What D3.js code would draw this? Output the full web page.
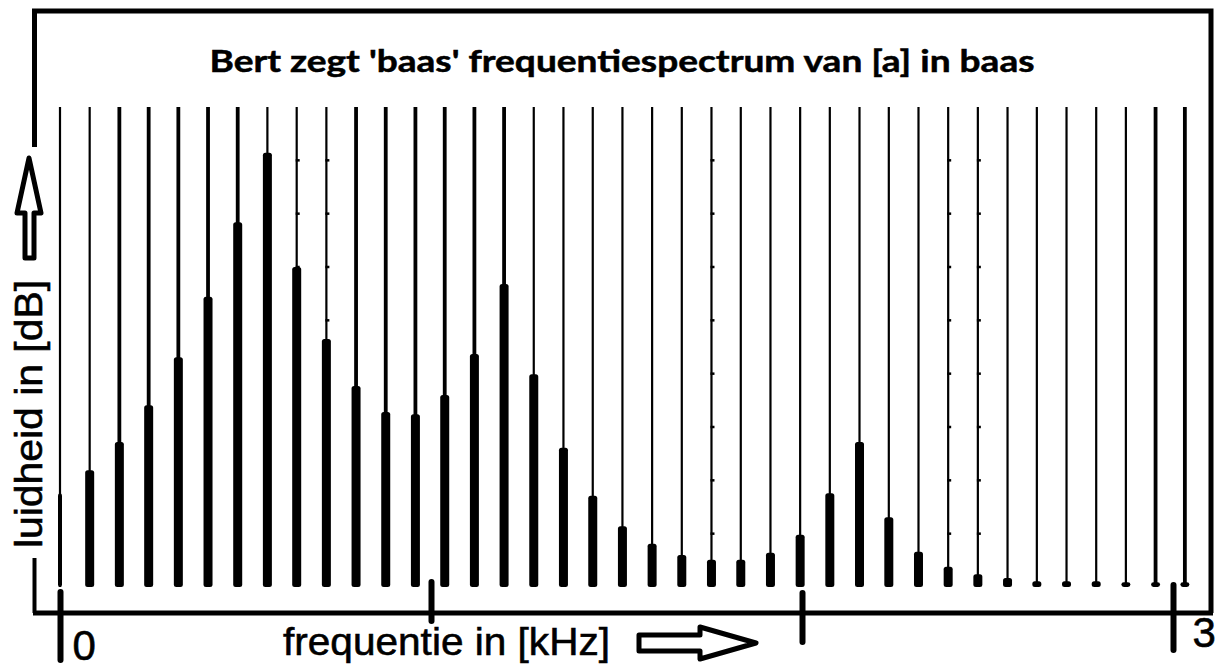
<!DOCTYPE html>
<meta charset="utf-8">
<style>
    body { margin: 0; background: #fff; }
    text { fill: #000; }
</style>
<body>
<svg></svg>
<script src="https://d3js.org/d3.v7.min.js"></script>
<script>

    // harmonics of the [a] in 'baas' (Hz) and their loudness (dB)
    let freqs = [0, 80, 160, 239, 319, 399, 479, 559, 638, 718,
        798, 878, 958, 1037, 1117, 1197, 1277, 1357, 1436, 1516,
        1596, 1676, 1756, 1835, 1915, 1995, 2075, 2155, 2234, 2314,
        2394, 2474, 2554, 2633, 2713, 2793, 2873, 2953, 3032];
    let levels = [17.6, 21.9, 27.2, 34.1, 43.1, 54.4, 68.4, 81.4, 60.0, 46.5,
        37.7, 32.8, 32.4, 36.0, 43.7, 56.8, 39.9, 26.1, 17.1, 11.4,
        8.1, 6.0, 5.1, 5.1, 6.4, 9.8, 17.6, 27.2, 13.1, 6.6,
        3.8, 2.4, 1.7, 1.1, 1.1, 1.1, 0.9, 0.9, 0.9];
    let kHzTicks = [0, 1, 2, 3];
    let kHzLabels = ["0", "", "", "3"];
    let dbMarks = [10, 20, 30, 40, 50, 60, 70, 80];
    let markedHarmonics = [7, 8, 9, 22, 30, 31];   // lines where the dB dots show
    let heavyHarmonics = [2, 3, 4, 5, 6, 10, 11, 12, 13, 14, 15, 37, 38];

    let width = 1217,
        height = 670;

    let svg = d3.select("svg")
        .attr("width", width)
        .attr("height", height)
        .style("display", "block");

    svg.append("rect").attr("width", width).attr("height", height).attr("fill", "#fff");

    let x = d3.scaleLinear().domain([0, 3000]).range([60, 1173]),
        y = d3.scaleLinear().domain([0, 90]).range([587, 107]);

    // tick look per kHz tick (absolute y of ends, label offsets)
    let tickReach = {0: [592, 660], 1: [582, 621], 2: [593, 642], 3: [585, 650]},
        labelPos = {0: [12, 660], 3: [19, 647]};

    // frame (left side is broken by the y label)
    let frame = svg.append("g").attr("fill", "none").attr("stroke", "#000");
    frame.append("path").attr("d", "M34.5,147V11H1211V613").attr("stroke-width", 5);
    frame.append("path").attr("d", "M34.5,558V613").attr("stroke-width", 4);
    frame.append("path").attr("d", "M33,613H1213").attr("stroke-width", 5);

    // title
    svg.append("text")
        .attr("x", 622)
        .attr("y", 72)
        .attr("text-anchor", "middle")
        .attr("textLength", 825)
        .attr("lengthAdjust", "spacingAndGlyphs")
        .style("font-family", "Lato, 'Open Sans', sans-serif")
        .style("font-weight", "bold")
        .style("font-size", "30px")
        .style("stroke", "#000")
        .style("stroke-width", 0.5)
        .text("Bert zegt 'baas' frequentiespectrum van [a] in baas");

    let idx = d3.range(freqs.length);

    // thin harmonic lines over the full height
    svg.append("g").selectAll("line")
        .data(idx)
        .join("line")
        .attr("x1", i => x(freqs[i]))
        .attr("x2", i => x(freqs[i]))
        .attr("y1", y(90))
        .attr("y2", y(0))
        .attr("stroke", "#000")
        .attr("stroke-width", i => heavyHarmonics.includes(i) ? 3.8 : 2.2);

    // small dB dots on a few lines
    let marks = [];
    markedHarmonics.forEach(i => dbMarks.forEach(db => marks.push([i, db])));
    svg.append("g").selectAll("line")
        .data(marks)
        .join("line")
        .attr("x1", d => x(freqs[d[0]]) - 1)
        .attr("x2", d => x(freqs[d[0]]) + 3)
        .attr("y1", d => y(d[1]))
        .attr("y2", d => y(d[1]))
        .attr("stroke", "#000")
        .attr("stroke-width", 2.5);

    // loudness bars
    svg.append("g").selectAll("rect")
        .data(idx)
        .join("rect")
        .attr("x", i => x(freqs[i]) - (i === 0 ? 2 : 4.5))
        .attr("width", i => i === 0 ? 4 : 9)
        .attr("y", i => y(levels[i]))
        .attr("height", i => y(0) - y(levels[i]))
        .attr("rx", 2.5)
        .attr("fill", "#000");

    // x axis ticks and labels
    let axis = d3.axisBottom(x)
        .tickValues(kHzTicks.map(k => k * 1000))
        .tickFormat((d, i) => kHzLabels[i])
        .tickSizeOuter(0);

    let gx = svg.append("g").attr("transform", "translate(0,613)").call(axis);
    gx.select(".domain").remove();
    gx.selectAll(".tick line")
        .attr("y1", d => tickReach[d / 1000][0] - 613)
        .attr("y2", d => tickReach[d / 1000][1] - 613)
        .attr("stroke", "#000")
        .attr("stroke-width", 6)
        .attr("stroke-linecap", "round");
    gx.selectAll(".tick text")
        .attr("text-anchor", "start")
        .attr("dy", null)
        .attr("x", d => labelPos[d / 1000] ? labelPos[d / 1000][0] : 0)
        .attr("y", d => labelPos[d / 1000] ? labelPos[d / 1000][1] - 613 : 0)
        .attr("fill", "#000")
        .style("stroke", "#000")
        .style("stroke-width", 0.6)
        .style("font-family", "'Liberation Sans', Arial, sans-serif")
        .style("font-size", "42px");

    // axis titles
    svg.append("text")
        .attr("x", 283)
        .attr("y", 655)
        .attr("textLength", 327)
        .attr("lengthAdjust", "spacingAndGlyphs")
        .style("font-family", "'Liberation Sans', Arial, sans-serif")
        .style("font-size", "39px")
        .style("stroke", "#000")
        .style("stroke-width", 0.6)
        .text("frequentie in [kHz]");

    svg.append("text")
        .attr("transform", "translate(42,548) rotate(-90)")
        .attr("textLength", 268)
        .attr("lengthAdjust", "spacingAndGlyphs")
        .style("font-family", "'Liberation Sans', Arial, sans-serif")
        .style("font-size", "39px")
        .style("stroke", "#000")
        .style("stroke-width", 0.6)
        .text("luidheid in [dB]");

    // hollow arrows
    let arrows = svg.append("g")
        .attr("fill", "#fff")
        .attr("stroke", "#000")
        .attr("stroke-width", 5)
        .attr("stroke-linejoin", "round");
    arrows.append("path").attr("d", "M29,158L41,213H34V258H25V213H17Z");
    arrows.append("path").attr("d", "M639,635H700V627L756,643L700,659V651H639Z");

</script>
</body>
